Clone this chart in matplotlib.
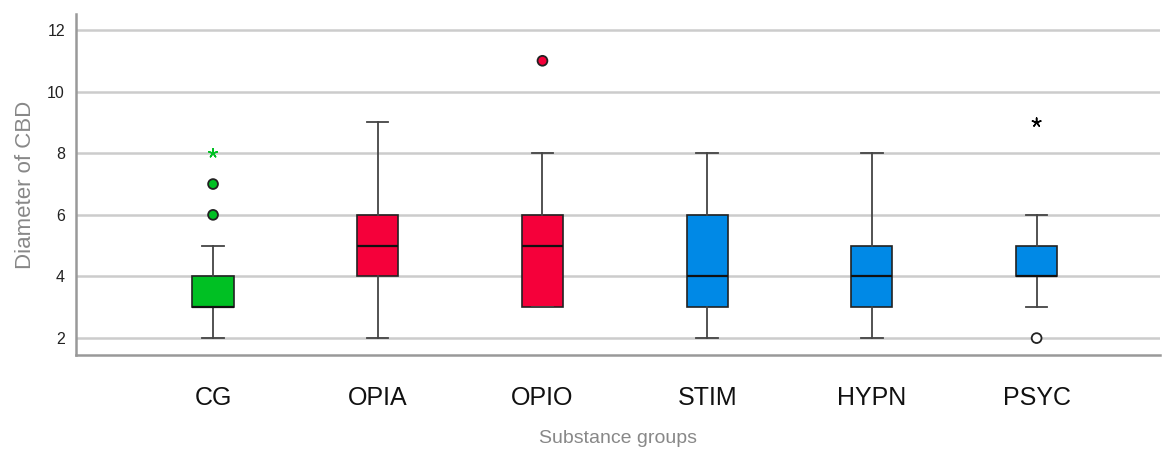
import matplotlib.pyplot as plt

groups = ["CG", "OPIA", "OPIO", "STIM", "HYPN", "PSYC"]
whislo = [2, 2, 3, 2, 2, 3]
q1 = [3, 4, 3, 3, 3, 4]
med = [3, 5, 5, 4, 4, 4]
q3 = [4, 6, 6, 6, 5, 5]
whishi = [5, 9, 8, 8, 8, 6]
box_colors = ["#00c023", "#f5003a", "#f5003a", "#0089e6", "#0089e6", "#0089e6"]

# outliers (circles) and extremes (stars): group index, value, color
out_group = [0, 0, 2, 5]
out_value = [6, 7, 11, 2]
out_color = ["#00c023", "#00c023", "#f5003a", "white"]
ext_group = [0, 5]
ext_value = [8, 9]
ext_color = ["#00c023", "black"]

plt.rcParams['font.family'] = ['Liberation Sans', 'DejaVu Sans']

fig = plt.figure(figsize=(11.62, 4.5), dpi=100)
ax = fig.add_axes([0.0654, 0.211, 0.933, 0.758])

stats = []
for i in range(len(groups)):
    stats.append({"whislo": whislo[i], "q1": q1[i], "med": med[i],
                  "q3": q3[i], "whishi": whishi[i], "fliers": [], "label": groups[i]})

positions = list(range(1, len(groups) + 1))
bp = ax.bxp(stats, positions=positions, widths=0.25, patch_artist=True,
            showfliers=False,
            boxprops=dict(edgecolor="#222222", linewidth=1.2),
            medianprops=dict(color="#111111", linewidth=1.6),
            whiskerprops=dict(color="#444444", linewidth=1.3),
            capprops=dict(color="#444444", linewidth=1.3),
            capwidths=0.13)
for patch, c in zip(bp["boxes"], box_colors):
    patch.set_facecolor(c)
for z in ["boxes", "medians", "whiskers", "caps"]:
    for artist in bp[z]:
        artist.set_zorder(3)

ax.scatter([positions[g] for g in out_group], out_value, s=50, c=out_color,
           edgecolors="#222222", linewidths=1.3, zorder=4)
ax.scatter([positions[g] for g in ext_group], ext_value, s=40, c=ext_color,
           marker=(5, 2, 0), linewidths=1.1, zorder=4)

ax.set_xlim(0.168, 6.75)
ax.set_ylim(1.45, 12.52)
ax.set_yticks([2, 4, 6, 8, 10, 12])
ax.yaxis.grid(True, color="#cccccc", linewidth=1.8, zorder=0)
ax.set_axisbelow(True)
ax.tick_params(axis="y", length=0, labelsize=11.5, labelcolor="#222222", pad=8)
ax.tick_params(axis="x", length=0, labelsize=18, labelcolor="#111111", pad=22)
ax.set_xticks(positions)
ax.set_xticklabels(groups)

for s in ["top", "right"]:
    ax.spines[s].set_visible(False)
for s in ["left", "bottom"]:
    ax.spines[s].set_color("#999999")
    ax.spines[s].set_linewidth(1.8)

ax.set_ylabel("Diameter of CBD", fontsize=16, color="#888888", labelpad=8)
ax.set_xlabel("Substance groups", fontsize=14, color="#888888", labelpad=15)

fig.savefig("out.png", dpi=100)
